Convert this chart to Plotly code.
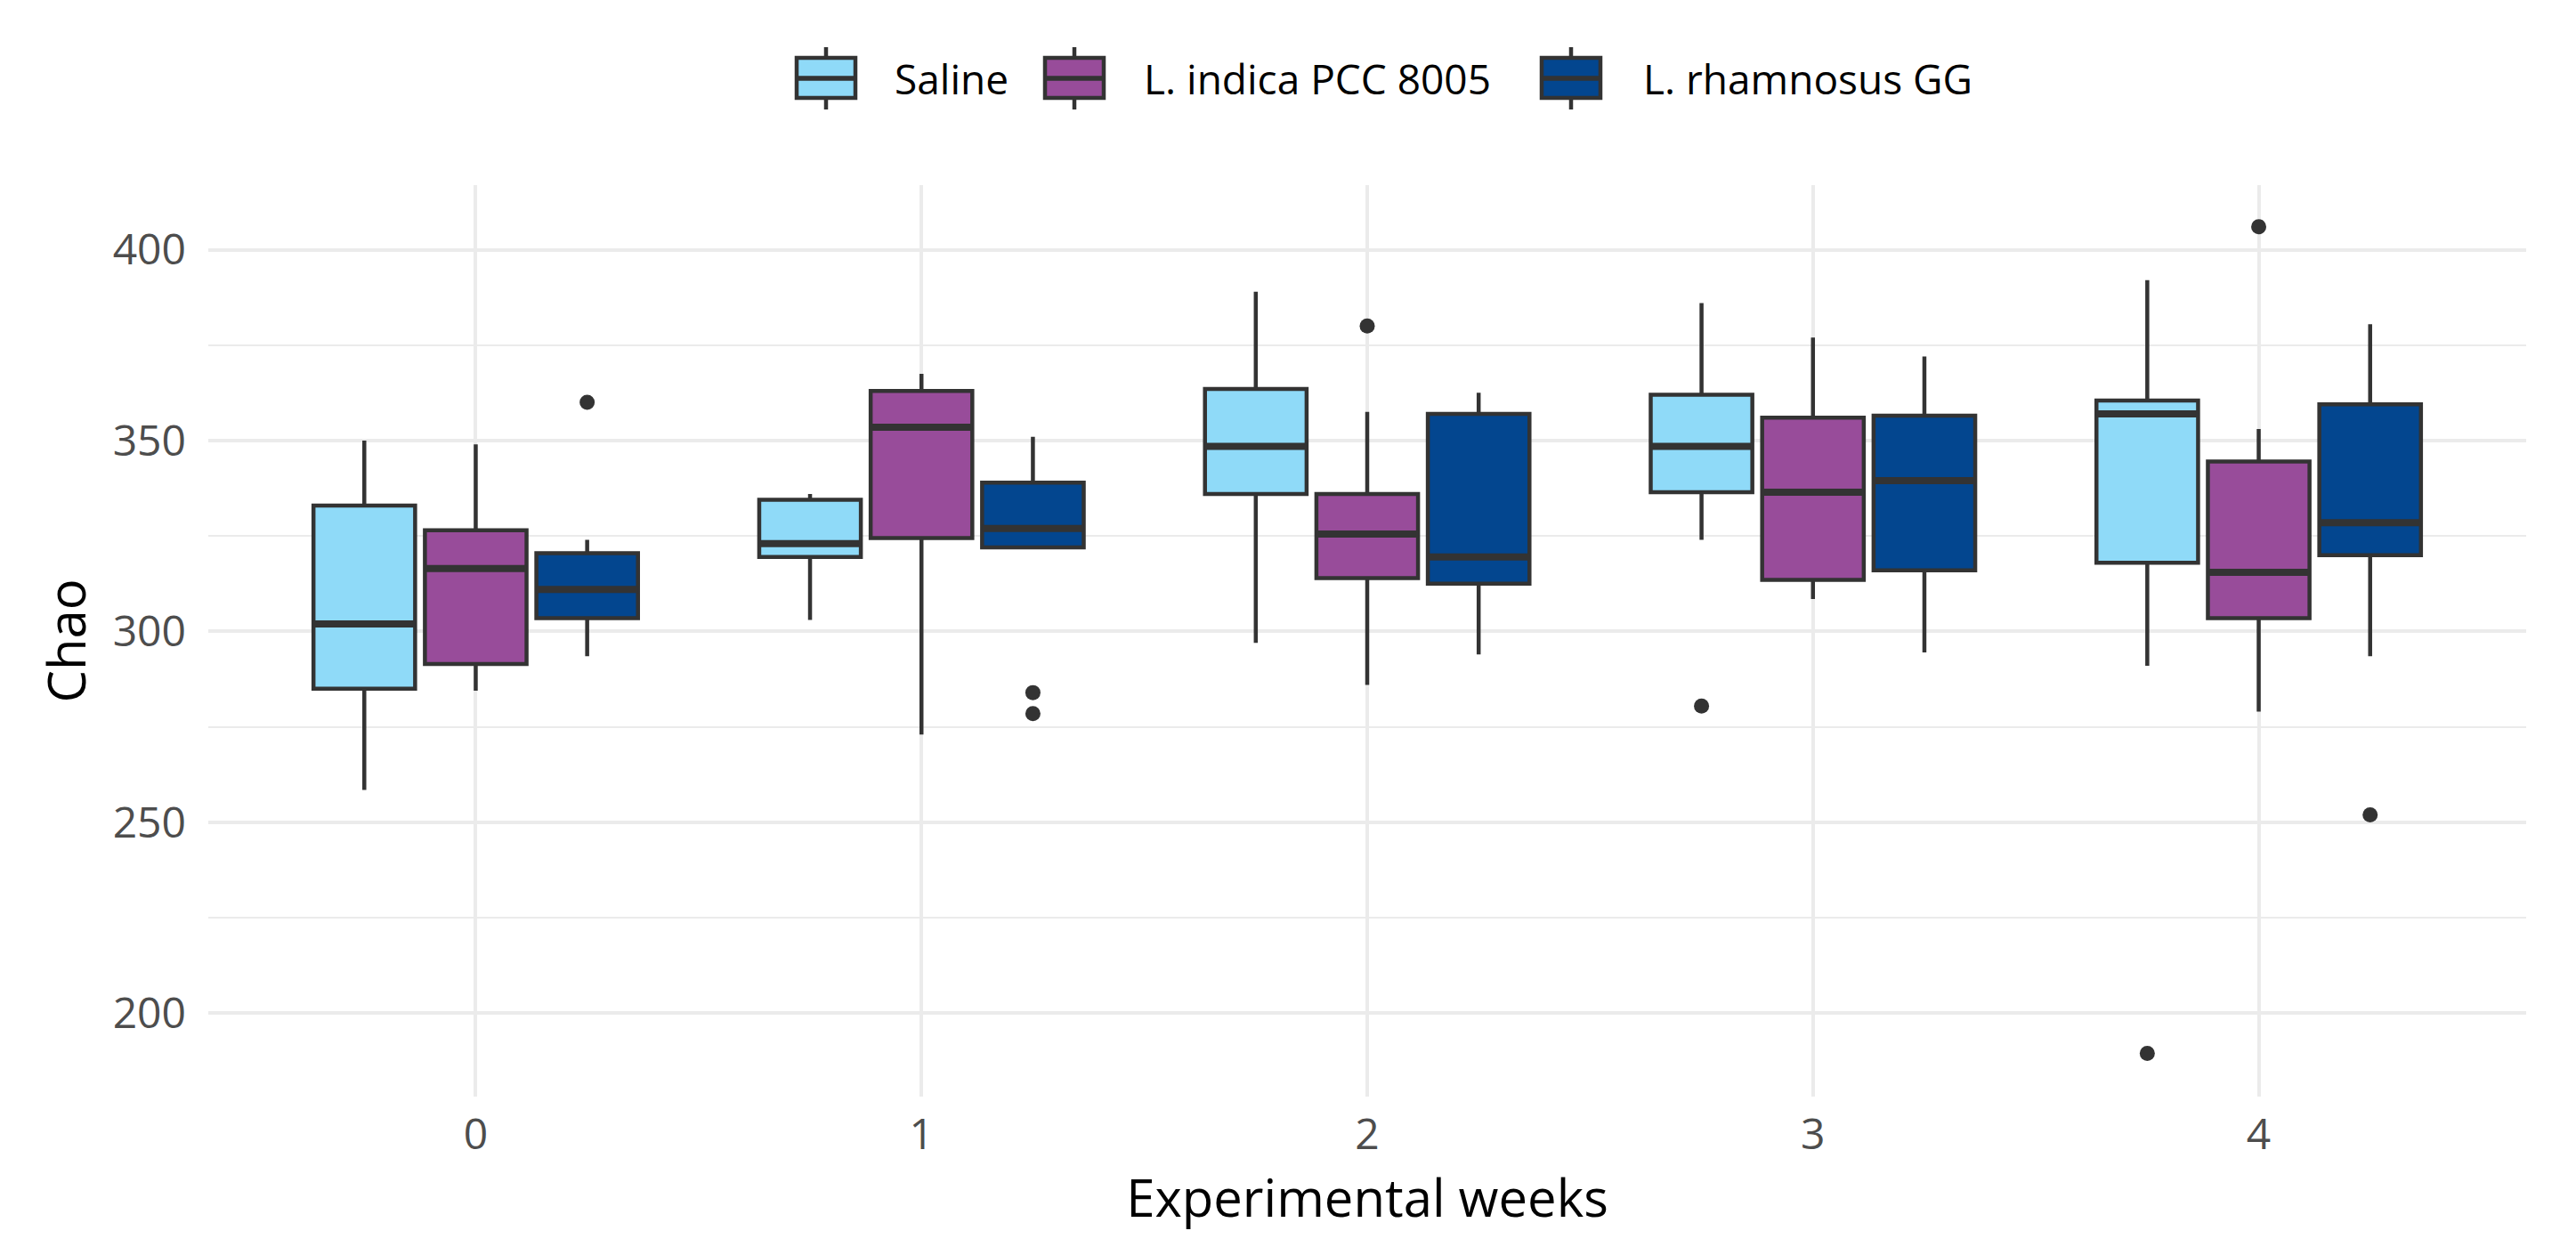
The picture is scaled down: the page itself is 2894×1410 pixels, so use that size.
import plotly.graph_objects as go

weeks = [0, 1, 2, 3, 4]
groups = ["Saline", "L. indica PCC 8005", "L. rhamnosus GG"]

saline_q1 = [285.0, 319.5, 336.0, 336.5, 318.0]
saline_med = [302.0, 323.0, 348.5, 348.5, 357.0]
saline_q3 = [333.0, 334.5, 363.5, 362.0, 360.5]
saline_lo = [258.5, 303.0, 297.0, 324.0, 291.0]
saline_hi = [350.0, 336.0, 389.0, 386.0, 392.0]
saline_out_week = [3, 4]
saline_out_val = [280.5, 189.5]

indica_q1 = [291.5, 324.5, 314.0, 313.5, 303.5]
indica_med = [316.5, 353.5, 325.5, 336.5, 315.5]
indica_q3 = [326.5, 363.0, 336.0, 356.0, 344.5]
indica_lo = [284.5, 273.0, 286.0, 308.5, 279.0]
indica_hi = [349.0, 367.5, 357.5, 377.0, 353.0]
indica_out_week = [2, 4]
indica_out_val = [380.0, 406.0]

rham_q1 = [303.5, 322.0, 312.5, 316.0, 320.0]
rham_med = [311.0, 327.0, 319.5, 339.5, 328.5]
rham_q3 = [320.5, 339.0, 357.0, 356.5, 359.5]
rham_lo = [293.5, 322.0, 294.0, 294.5, 293.5]
rham_hi = [324.0, 351.0, 362.5, 372.0, 380.5]
rham_out_week = [0, 1, 1, 4]
rham_out_val = [360.0, 284.0, 278.5, 252.0]

tick_vals = [200, 250, 300, 350, 400]
colors = ["#8FDAF8", "#984C9A", "#03468F"]

series = [
    (saline_q1, saline_med, saline_q3, saline_lo, saline_hi, saline_out_week, saline_out_val),
    (indica_q1, indica_med, indica_q3, indica_lo, indica_hi, indica_out_week, indica_out_val),
    (rham_q1, rham_med, rham_q3, rham_lo, rham_hi, rham_out_week, rham_out_val),
]

W, H = 2894, 1410
ML, MR, MT, MB = 226, 64, 200, 186
PW, PH = W - ML - MR, H - MT - MB


def px(x):
    return (x - ML) / PW


def py(y):
    return (H - MB - y) / PH


offsets = [-0.25, 0.0, 0.25]
box_w = 0.228
edge = "#333333"
FONT = "Segoe UI, Open Sans, sans-serif"

fig = go.Figure()
for name, color, s, off in zip(groups, colors, series, offsets):
    q1, med, q3, lo, hi, ow, ov = s
    pos = [w + off for w in weeks]
    fig.add_trace(go.Box(
        name=name, x=pos, q1=q1, median=med, q3=q3,
        lowerfence=lo, upperfence=hi, width=box_w,
        fillcolor=color, line=dict(color=edge, width=4.5),
        whiskerwidth=0, boxpoints=False, showlegend=False,
    ))
    mx, my = [], []
    for p, m in zip(pos, med):
        mx += [p - box_w / 2, p + box_w / 2, None]
        my += [m, m, None]
    fig.add_trace(go.Scatter(x=mx, y=my, mode="lines", name=name + " median",
                             line=dict(color=edge, width=8),
                             showlegend=False, hoverinfo="skip"))
    fig.add_trace(go.Scatter(x=[w + off for w in ow], y=ov, mode="markers",
                             name=name + " outliers",
                             marker=dict(color=edge, size=17),
                             showlegend=False))

# legend drawn as keys (boxplot glyphs) + text
key_left = [887, 1166, 1724]
text_left = [995, 1275, 1836]
key_w, key_top, key_bot, wh_top, wh_bot, leg_mid = 66, 57, 102, 45, 115, 80
shapes = []
annotations = []
for name, color, kl, tl in zip(groups, colors, key_left, text_left):
    cx = kl + key_w / 2
    shapes.append(dict(type="line", xref="paper", yref="paper",
                       x0=px(cx), x1=px(cx), y0=py(wh_top), y1=py(wh_bot),
                       line=dict(color=edge, width=4.5), layer="above"))
    shapes.append(dict(type="rect", xref="paper", yref="paper",
                       x0=px(kl), x1=px(kl + key_w), y0=py(key_top), y1=py(key_bot),
                       fillcolor=color, line=dict(color=edge, width=4.5), layer="above"))
    shapes.append(dict(type="line", xref="paper", yref="paper",
                       x0=px(kl), x1=px(kl + key_w), y0=py(leg_mid), y1=py(leg_mid),
                       line=dict(color=edge, width=5.5), layer="above"))
    annotations.append(dict(text=name, xref="paper", yref="paper",
                            x=px(tl), y=py(leg_mid), xanchor="left", yanchor="middle",
                            showarrow=False, font=dict(size=46, color="black", family=FONT)))

fig.update_layout(
    width=W, height=H,
    margin=dict(l=ML, r=MR, t=MT, b=MB),
    paper_bgcolor="white", plot_bgcolor="white",
    boxmode="overlay", showlegend=False,
    font=dict(family=FONT, size=46, color="black"),
    shapes=shapes, annotations=annotations,
    xaxis=dict(
        range=[-0.6, 4.6], tickmode="array", tickvals=weeks,
        ticktext=[str(w) for w in weeks],
        showgrid=True, gridcolor="#EBEBEB", gridwidth=4,
        zeroline=False, showline=False, ticks="",
        ticklabelstandoff=10,
        tickfont=dict(size=48, color="#4D4D4D", family=FONT),
        title=dict(text="Experimental weeks", font=dict(size=58, color="black", family=FONT), standoff=11),
    ),
    yaxis=dict(
        range=[178.2, 416.9], tickmode="array", tickvals=tick_vals,
        showgrid=True, gridcolor="#EBEBEB", gridwidth=4,
        minor=dict(dtick=25, tick0=0, showgrid=True, gridcolor="#EBEBEB", gridwidth=2),
        zeroline=False, showline=False, ticks="",
        ticklabelstandoff=24,
        tickfont=dict(size=48, color="#4D4D4D", family=FONT),
        title=dict(text="Chao", font=dict(size=58, color="black", family=FONT), standoff=11),
    ),
)

fig.write_html("out.html")
